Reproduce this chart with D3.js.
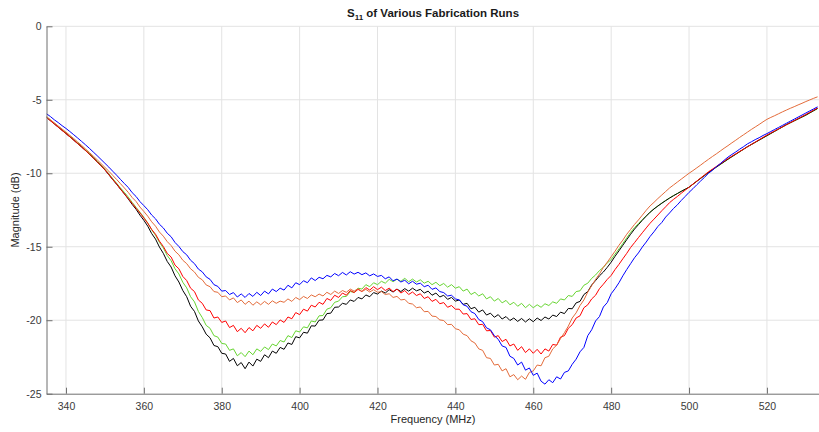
<!DOCTYPE html>
<html>
<head>
<meta charset="utf-8">
<script src="https://cdn.jsdelivr.net/npm/d3@7"></script>
<style>
  body { margin: 0; background: #fff; }
  svg text { font-family: "Liberation Sans", Arial, Helvetica, sans-serif; }
</style>
</head>
<body>
<svg id="chart" width="819" height="432"></svg>
<script>
// sweep: 335 MHz .. 533 MHz, one sample per MHz
var freqStart = 335;
var freqStep = 1;

var xTicks = [340, 360, 380, 400, 420, 440, 460, 480, 500, 520];
var yTicks = [0, -5, -10, -15, -20, -25];

// S11 (dB), one value per MHz
var blueS11 = [
  -5.95,-6.14,-6.36,-6.55,-6.76,-6.95,
  -7.16,-7.38,-7.60,-7.83,-8.06, -8.30,-8.55,-8.80,-9.06,-9.32,
  -9.58,-9.86,-10.13,-10.42,-10.70, -10.97,-11.32,-11.58,-11.93,-12.20,
  -12.48,-12.84,-13.10,-13.47,-13.72, -14.08,-14.32,-14.71,-14.98,-15.33,
  -15.55,-15.92,-16.15,-16.52,-16.71, -17.05,-17.22,-17.58,-17.70,-18.02,
  -17.98,-18.25,-18.12,-18.42,-18.21, -18.45,-18.18,-18.38,-18.10,-18.32,
  -18.02,-18.21,-17.88,-18.05,-17.82, -17.95,-17.62,-17.80,-17.45,-17.58,
  -17.31,-17.45,-17.12,-17.30,-17.08, -17.18,-16.95,-17.05,-16.82,-16.97,
  -16.75,-16.92,-16.70,-16.86,-16.74, -16.90,-16.78,-16.98,-16.85,-17.02,
  -16.95,-17.18,-17.05,-17.32,-17.20, -17.40,-17.28,-17.52,-17.35,-17.55,
  -17.48,-17.72,-17.62,-17.90,-17.80, -18.05,-18.12,-18.35,-18.30,-18.55,
  -18.62,-18.95,-19.05,-19.42,-19.55, -19.95,-20.10,-20.52,-20.65,-21.05,
  -21.30,-21.75,-21.85,-22.45,-22.60, -23.05,-22.85,-23.40,-23.25,-23.75,
  -23.60,-24.15,-24.35,-24.05,-24.25, -23.85,-24.00,-23.55,-23.45,-23.00,
  -22.65,-22.15,-21.85,-21.05,-20.65, -20.05,-19.75,-19.10,-18.80,-18.20,
  -17.85,-17.45,-16.98,-16.55,-16.15, -15.75,-15.42,-15.02,-14.68,-14.30,
  -13.98,-13.62,-13.35,-12.98,-12.70, -12.40,-12.15,-11.85,-11.58,-11.30,
  -11.05,-10.78,-10.52,-10.27,-10.00, -9.80,-9.56,-9.35,-9.12,-8.90,
  -8.72,-8.55,-8.36,-8.19,-8.00, -7.86,-7.71,-7.58,-7.43,-7.30,
  -7.16,-7.02,-6.88,-6.74,-6.60, -6.46,-6.32,-6.18,-6.04,-5.90,
  -5.76,-5.62,-5.48
];

var orangeS11 = [
  -6.15,-6.36,-6.57,-6.78,-6.99,-7.20,
  -7.42,-7.64,-7.87,-8.10,-8.34, -8.58,-8.83,-9.08,-9.34,-9.60,
  -9.86,-10.14,-10.42,-10.71,-11.00, -11.30,-11.65,-11.92,-12.30,-12.60,
  -12.92,-13.30,-13.60,-14.00,-14.28, -14.65,-14.92,-15.30,-15.55,-15.92,
  -16.15,-16.50,-16.72,-17.08,-17.25, -17.60,-17.72,-18.05,-18.10,-18.40,
  -18.35,-18.62,-18.48,-18.80,-18.62, -18.92,-18.70,-18.98,-18.75,-18.95,
  -18.72,-18.92,-18.68,-18.85,-18.70, -18.78,-18.55,-18.72,-18.45,-18.60,
  -18.38,-18.52,-18.28,-18.40,-18.22, -18.35,-18.10,-18.25,-18.02,-18.18,
  -17.98,-18.10,-17.88,-18.02,-17.85, -18.05,-17.90,-18.08,-17.92,-18.10,
  -18.05,-18.25,-18.20,-18.45,-18.38, -18.62,-18.58,-18.85,-18.90,-19.15,
  -19.10,-19.42,-19.40,-19.72,-19.75, -19.98,-20.02,-20.30,-20.28,-20.58,
  -20.65,-20.95,-21.05,-21.40,-21.55, -21.95,-22.05,-22.55,-22.60,-23.05,
  -23.00,-23.45,-23.30,-23.85,-23.70, -24.05,-23.80,-24.02,-23.55,-23.45,
  -23.05,-23.10,-22.55,-22.45,-21.95, -21.70,-21.25,-20.85,-20.40,-19.85,
  -19.50,-19.00,-18.62,-18.08,-17.65, -17.22,-16.85,-16.40,-16.05,-15.68,
  -15.30,-14.90,-14.55,-14.15,-13.82, -13.48,-13.18,-12.85,-12.52,-12.22,
  -11.98,-11.72,-11.48,-11.24,-11.00, -10.80,-10.60,-10.40,-10.20,-10.00,
  -9.82,-9.63,-9.44,-9.24,-9.05, -8.86,-8.68,-8.49,-8.30,-8.12,
  -7.93,-7.75,-7.56,-7.38,-7.20, -7.02,-6.85,-6.68,-6.50,-6.33,
  -6.20,-6.08,-5.95,-5.82,-5.70, -5.58,-5.47,-5.35,-5.24,-5.12,
  -5.01,-4.90,-4.80
];

var redS11 = [
  -6.20,-6.42,-6.64,-6.86,-7.08,-7.30,
  -7.52,-7.75,-7.98,-8.21,-8.45, -8.70,-8.96,-9.22,-9.49,-9.76,
  -10.08,-10.42,-10.72,-11.08,-11.40, -11.72,-12.05,-12.38,-12.70,-13.05,
  -13.40,-13.82,-14.15,-14.62,-14.98, -15.45,-15.70,-16.25,-16.50,-17.02,
  -17.30,-17.82,-18.05,-18.62,-18.85, -19.30,-19.35,-19.85,-19.78,-20.15,
  -20.05,-20.50,-20.35,-20.78,-20.55, -20.85,-20.50,-20.72,-20.35,-20.55,
  -20.25,-20.48,-20.12,-20.30,-19.98, -20.15,-19.78,-19.90,-19.48,-19.62,
  -19.25,-19.38,-18.98,-19.10,-18.78, -18.92,-18.52,-18.65,-18.30,-18.45,
  -18.15,-18.30,-17.98,-18.12,-17.90, -18.05,-17.78,-17.95,-17.72,-17.92,
  -17.75,-17.98,-17.82,-18.05,-17.88, -18.15,-17.98,-18.25,-18.08,-18.32,
  -18.20,-18.52,-18.40,-18.72,-18.58, -18.88,-18.80,-19.12,-19.00,-19.25,
  -19.25,-19.58,-19.55,-19.95,-19.90, -20.30,-20.28,-20.72,-20.70,-21.15,
  -21.05,-21.45,-21.30,-21.75,-21.62, -22.05,-21.80,-22.20,-21.95,-22.25,
  -21.98,-22.30,-21.95,-22.10,-21.65, -21.70,-21.15,-21.05,-20.55,-20.30,
  -19.85,-19.70,-19.15,-18.95,-18.55, -18.30,-17.85,-17.55,-17.22,-16.95,
  -16.55,-16.20,-15.82,-15.45,-15.05, -14.72,-14.38,-14.05,-13.72,-13.40,
  -13.12,-12.84,-12.55,-12.28,-12.00, -11.78,-11.58,-11.36,-11.15,-10.95,
  -10.74,-10.53,-10.32,-10.11,-9.90, -9.72,-9.54,-9.36,-9.18,-9.00,
  -8.84,-8.68,-8.52,-8.36,-8.20, -8.04,-7.88,-7.72,-7.56,-7.40,
  -7.26,-7.12,-6.98,-6.84,-6.70, -6.56,-6.42,-6.28,-6.14,-6.00,
  -5.85,-5.70,-5.56
];

var greenS11 = [
  -6.15,-6.37,-6.59,-6.81,-7.03,-7.25,
  -7.47,-7.70,-7.93,-8.16,-8.40, -8.65,-8.91,-9.17,-9.44,-9.72,
  -10.03,-10.36,-10.68,-11.00,-11.30, -11.62,-11.98,-12.32,-12.65,-13.00,
  -13.38,-13.85,-14.22,-14.70,-15.08, -15.60,-15.95,-16.50,-16.85,-17.42,
  -17.80,-18.40,-18.75,-19.40,-19.82, -20.35,-20.55,-21.05,-21.15,-21.58,
  -21.62,-22.05,-21.95,-22.42,-22.20, -22.48,-22.10,-22.35,-21.95,-22.12,
  -21.82,-22.00,-21.62,-21.75,-21.38, -21.48,-21.05,-21.18,-20.72,-20.80,
  -20.45,-20.52,-20.05,-20.12,-19.70, -19.68,-19.25,-19.15,-18.78,-18.70,
  -18.40,-18.38,-18.05,-18.10,-17.82, -17.88,-17.58,-17.72,-17.45,-17.58,
  -17.35,-17.48,-17.22,-17.38,-17.20, -17.35,-17.15,-17.38,-17.20,-17.40,
  -17.25,-17.48,-17.35,-17.58,-17.42, -17.65,-17.50,-17.75,-17.58,-17.82,
  -17.72,-18.02,-17.88,-18.25,-18.10, -18.35,-18.20,-18.55,-18.40,-18.70,
  -18.52,-18.82,-18.65,-18.95,-18.78, -19.05,-18.85,-19.15,-18.92,-19.15,
  -18.95,-19.12,-18.88,-19.00,-18.75, -18.85,-18.55,-18.62,-18.32,-18.38,
  -18.05,-18.00,-17.62,-17.48,-17.15, -16.92,-16.62,-16.40,-16.10,-15.88,
  -15.50,-15.15,-14.78,-14.40,-14.02, -13.70,-13.42,-13.15,-12.90,-12.65,
  -12.42,-12.22,-12.03,-11.85,-11.68, -11.52,-11.38,-11.23,-11.09,-10.95,
  -10.75,-10.55,-10.35,-10.15,-9.95, -9.77,-9.59,-9.41,-9.23,-9.05,
  -8.88,-8.71,-8.54,-8.37,-8.20, -8.05,-7.90,-7.75,-7.60,-7.45,
  -7.30,-7.15,-7.00,-6.85,-6.70, -6.57,-6.44,-6.31,-6.18,-6.05,
  -5.90,-5.75,-5.60
];

var blackS11 = [
  -6.20,-6.42,-6.64,-6.86,-7.08,-7.30,
  -7.52,-7.75,-7.98,-8.21,-8.45, -8.70,-8.96,-9.22,-9.49,-9.77,
  -10.10,-10.43,-10.75,-11.08,-11.40, -11.75,-12.12,-12.45,-12.85,-13.20,
  -13.60,-14.10,-14.48,-15.02,-15.45, -16.00,-16.38,-16.98,-17.40,-17.98,
  -18.40,-19.05,-19.40,-20.05,-20.45, -20.95,-21.20,-21.72,-21.80,-22.25,
  -22.30,-22.80,-22.60,-23.10,-22.88, -23.30,-22.85,-23.12,-22.65,-22.80,
  -22.35,-22.55,-22.10,-22.25,-21.85, -21.98,-21.55,-21.65,-21.12,-21.20,
  -20.82,-20.88,-20.38,-20.40,-20.00, -19.98,-19.55,-19.52,-19.12,-19.10,
  -18.85,-18.92,-18.62,-18.72,-18.45, -18.55,-18.28,-18.40,-18.12,-18.22,
  -18.02,-18.15,-17.92,-18.08,-17.88, -18.05,-17.85,-18.02,-17.82,-18.00,
  -17.90,-18.15,-18.02,-18.30,-18.15, -18.42,-18.30,-18.58,-18.45,-18.70,
  -18.62,-18.92,-18.85,-19.22,-19.12, -19.45,-19.30,-19.65,-19.52,-19.80,
  -19.62,-19.92,-19.75,-20.02,-19.85, -20.08,-19.88,-20.12,-19.90,-20.10,
  -19.85,-20.02,-19.78,-19.92,-19.65, -19.75,-19.45,-19.55,-19.20,-19.22,
  -18.82,-18.72,-18.25,-18.05,-17.60, -17.30,-16.98,-16.72,-16.40,-16.05,
  -15.65,-15.28,-14.90,-14.52,-14.15, -13.80,-13.50,-13.20,-12.92,-12.65,
  -12.43,-12.23,-12.04,-11.86,-11.69, -11.53,-11.38,-11.23,-11.09,-10.95,
  -10.74,-10.54,-10.34,-10.14,-9.94, -9.76,-9.58,-9.40,-9.22,-9.04,
  -8.87,-8.70,-8.53,-8.36,-8.19, -8.04,-7.89,-7.74,-7.59,-7.44,
  -7.29,-7.14,-6.99,-6.84,-6.69, -6.56,-6.43,-6.30,-6.17,-6.04,
  -5.89,-5.74,-5.59
];

// drawing order: later ones sit on top
var runs = [
  {name: "green", color: "#66d431", values: greenS11},
  {name: "black", color: "#000000", values: blackS11},
  {name: "red", color: "#ff0000", values: redS11},
  {name: "orange", color: "#e36b3a", values: orangeS11},
  {name: "blue", color: "#0000ff", values: blueS11}
];

var svg = d3.select("#chart");
// note: "top" is taken by window.top, so use plot* names
var plotLeft = 46.5, plotRight = 819.5, plotTop = 26.3, plotBottom = 393.7;

var x = d3.scaleLinear().domain([335, 533.5]).range([plotLeft, plotRight]);
var y = d3.scaleLinear().domain([-25, 0]).range([plotBottom, plotTop]);

// grid
svg.append("g").selectAll("line")
    .data(xTicks)
    .enter().append("line")
    .attr("x1", d => x(d)).attr("x2", d => x(d))
    .attr("y1", plotTop).attr("y2", plotBottom)
    .attr("stroke", "#e3e3e3").attr("stroke-width", 1);
svg.append("g").selectAll("line")
    .data(yTicks.filter(d => d > -25))
    .enter().append("line")
    .attr("x1", plotLeft).attr("x2", plotRight)
    .attr("y1", d => y(d)).attr("y2", d => y(d))
    .attr("stroke", "#e3e3e3").attr("stroke-width", 1);

// curves
svg.append("clipPath").attr("id", "plotClip")
    .append("rect")
    .attr("x", plotLeft).attr("y", plotTop)
    .attr("width", plotRight - plotLeft).attr("height", plotBottom - plotTop);

var line = d3.line()
    .x((d, i) => x(freqStart + i * freqStep))
    .y(d => y(d));

svg.append("g").attr("clip-path", "url(#plotClip)")
    .selectAll("path")
    .data(runs)
    .enter().append("path")
    .attr("d", d => line(d.values))
    .attr("fill", "none")
    .attr("stroke", d => d.color)
    .attr("stroke-width", 1)
    .attr("stroke-linejoin", "round");

// axes (ticks point inward like matlab)
var xAxis = d3.axisBottom(x).tickValues(xTicks).tickSize(-6).tickPadding(9).tickSizeOuter(0);
var gx = svg.append("g").attr("transform", "translate(0," + plotBottom + ")").call(xAxis);
gx.select(".domain").attr("stroke", "#6e6e6e");
gx.selectAll(".tick line").attr("stroke", "#6e6e6e");
gx.selectAll("text").attr("fill", "#3a3a3a").style("font-size", "10.5px");

var yAxis = d3.axisLeft(y).tickValues(yTicks).tickSize(-6).tickPadding(5).tickSizeOuter(0);
var gy = svg.append("g").attr("transform", "translate(" + plotLeft + ",0)").call(yAxis);
gy.select(".domain").attr("stroke", "#6e6e6e");
gy.selectAll(".tick line").attr("stroke", "#6e6e6e");
gy.selectAll("text").attr("fill", "#3a3a3a").style("font-size", "10.5px")
    .text(d => d === 0 ? "0" : "-" + Math.abs(d));

// title
var title = svg.append("text")
    .attr("x", (plotLeft + plotRight) / 2)
    .attr("y", 17)
    .attr("text-anchor", "middle")
    .attr("font-weight", "bold")
    .attr("font-size", "11.5px")
    .attr("fill", "#1a1a1a");
title.append("tspan").text("S");
title.append("tspan").attr("dy", 3).attr("font-size", "8px").text("11");
title.append("tspan").attr("dy", -3).text(" of Various Fabrication Runs");

// axis labels
svg.append("text")
    .attr("x", (plotLeft + plotRight) / 2)
    .attr("y", 423)
    .attr("text-anchor", "middle")
    .attr("font-size", "11px")
    .attr("fill", "#262626")
    .text("Frequency (MHz)");

svg.append("text")
    .attr("transform", "translate(19," + ((plotTop + plotBottom) / 2) + ") rotate(-90)")
    .attr("text-anchor", "middle")
    .attr("font-size", "11px")
    .attr("fill", "#262626")
    .text("Magnitude (dB)");
</script>
</body>
</html>
